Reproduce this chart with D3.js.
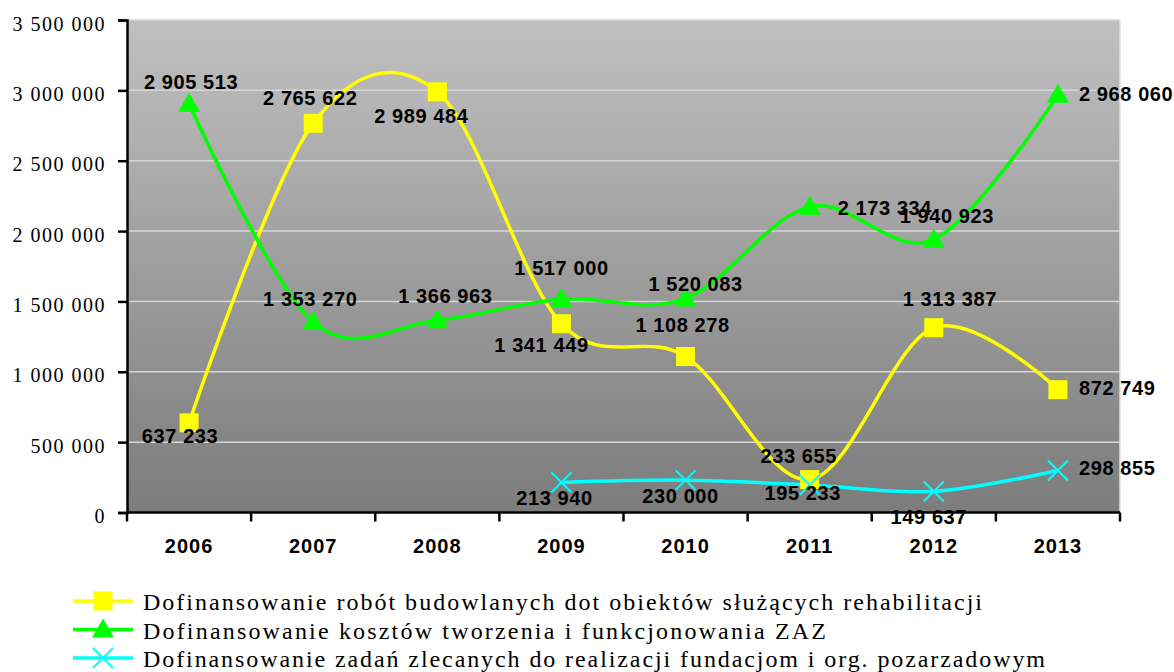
<!DOCTYPE html>
<meta charset="utf-8">
<style>
body { margin: 0; background: #fff; }
svg { display: block; }
.tick-x text { font-family: "Liberation Sans", Arial, sans-serif; font-size: 20px; font-weight: bold; letter-spacing: 1px; fill: #000; }
.lbl { font-family: "Liberation Sans", Arial, sans-serif; font-size: 20px; font-weight: bold; letter-spacing: 0.6px; fill: #000; }
.legend text { font-family: "Liberation Serif", "DejaVu Serif", serif; font-size: 24px; fill: #000; }
</style>
<body>
<div id="chart"></div>
<script src="https://cdn.jsdelivr.net/npm/d3@7"></script>
<script>
// data
var years = ["2006", "2007", "2008", "2009", "2010", "2011", "2012", "2013"];
var budowlane = [637233, 2765622, 2989484, 1341449, 1108278, 233655, 1313387, 872749];
var zaz = [2905513, 1353270, 1366963, 1517000, 1520083, 2173334, 1940923, 2968060];
var zlecone = [null, null, null, 213940, 230000, 195233, 149637, 298855];
var yTicks = [0, 500000, 1000000, 1500000, 2000000, 2500000, 3000000, 3500000];
var seriesNames = [
    "Dofinansowanie robót budowlanych dot obiektów służących rehabilitacji",
    "Dofinansowanie kosztów tworzenia i funkcjonowania ZAZ",
    "Dofinansowanie zadań zlecanych do realizacji fundacjom i org. pozarzadowym"
];

// label placement (dx, dy from the point, anchor)
var labelPlace = [
    [[-9, 20, "middle"], [-3, -18, "middle"], [-16, 31, "middle"], [-20, 28, "middle"],
     [-3, -25, "middle"], [-11, -17, "middle"], [16, -22, "middle"], [21, 5, "start"]],
    [[2, -15, "middle"], [-3, -16, "middle"], [8, -17, "middle"], [0, -24, "middle"],
     [10, -8, "middle"], [28, 8, "start"], [13, -16, "middle"], [21, 6, "start"]],
    [null, null, null, [-7, 23, "middle"], [-5, 23, "middle"], [-7, 15, "middle"],
     [-5, 33, "middle"], [21, 5, "start"]]
];

var W = 1174, H = 672;
var plotL = 127, plotR = 1120, plotT = 20, plotB = 512.5;

var svg = d3.select("#chart").append("svg").attr("width", W).attr("height", H);

var x = d3.scaleBand().domain(years).range([plotL, plotR]);
var y = d3.scaleLinear().domain([0, 3500000]).range([plotB, plotT]);
var cx = function(i) { return x(years[i]) + x.bandwidth() / 2; };

var fmt = function(v) {
    return d3.format(",")(v).replace(/,/g, " ");
};

// background gradient
var grad = svg.append("defs").append("linearGradient")
    .attr("id", "bg").attr("x1", 0).attr("y1", 0).attr("x2", 0).attr("y2", 1);
grad.append("stop").attr("offset", "0%").attr("stop-color", "#c0c0c0");
grad.append("stop").attr("offset", "100%").attr("stop-color", "#7c7c7c");

svg.append("rect")
    .attr("x", plotL).attr("y", plotT)
    .attr("width", plotR - plotL).attr("height", plotB - plotT)
    .attr("fill", "url(#bg)");

// gridlines
svg.append("g").selectAll("line")
    .data(yTicks.slice(1))
    .enter().append("line")
    .attr("x1", plotL).attr("x2", plotR)
    .attr("y1", function(d) { return y(d); })
    .attr("y2", function(d) { return y(d); })
    .attr("stroke", "#d6d6d6").attr("stroke-width", 1.5);

svg.append("line")
    .attr("x1", plotR).attr("x2", plotR).attr("y1", plotT).attr("y2", plotB)
    .attr("stroke", "#e0e0e0").attr("stroke-width", 1.5);

// y axis
var yAxis = d3.axisLeft(y).tickValues(yTicks).tickFormat(fmt).tickSize(9).tickPadding(12);
var gy = svg.append("g")
    .attr("transform", "translate(" + plotL + ",0)")
    .call(yAxis)
    .attr("font-family", "'Liberation Serif', 'DejaVu Serif', serif")
    .attr("font-size", 20);
gy.select(".domain").attr("stroke", "#000").attr("stroke-width", 2.5);
gy.selectAll(".tick line").attr("stroke", "#000").attr("stroke-width", 2.5);
gy.selectAll(".tick text").attr("dy", "0.5em")
    .attr("fill", "#000")
    .style("letter-spacing", "1.5px");

// x axis, ticks at category boundaries
var gx = svg.append("g").attr("class", "tick-x")
    .attr("transform", "translate(0," + plotB + ")");
gx.append("line").attr("x1", plotL).attr("x2", plotR)
    .attr("stroke", "#000").attr("stroke-width", 2.5);
gx.selectAll(".tb").data(years.concat(["end"]))
    .enter().append("line")
    .attr("x1", function(d, i) { return plotL + i * x.bandwidth(); })
    .attr("x2", function(d, i) { return plotL + i * x.bandwidth(); })
    .attr("y1", 0).attr("y2", 9)
    .attr("stroke", "#000").attr("stroke-width", 2.5);
gx.selectAll("text").data(years)
    .enter().append("text")
    .attr("x", function(d, i) { return cx(i); })
    .attr("y", 40)
    .attr("text-anchor", "middle")
    .text(function(d) { return d; });

// series
var series = [
    { values: budowlane, color: "#ffff00", marker: "square" },
    { values: zaz, color: "#00ff00", marker: "triangle" },
    { values: zlecone, color: "#00ffff", marker: "cross" }
];

var line = d3.line()
    .defined(function(d) { return d != null; })
    .x(function(d, i) { return cx(i); })
    .y(function(d) { return y(d); })
    .curve(d3.curveCatmullRom.alpha(0));

function drawMarker(g, type, color, px, py) {
    if (type === "square") {
        g.append("rect").attr("x", px - 9.5).attr("y", py - 9.5)
            .attr("width", 19).attr("height", 19).attr("fill", color);
    } else if (type === "triangle") {
        g.append("path")
            .attr("d", "M" + px + "," + (py - 11) + "L" + (px + 11) + "," + (py + 8) + "L" + (px - 11) + "," + (py + 8) + "Z")
            .attr("fill", color);
    } else {
        g.append("path")
            .attr("d", "M" + (px - 10) + "," + (py - 10) + "L" + (px + 10) + "," + (py + 10) +
                "M" + (px + 10) + "," + (py - 10) + "L" + (px - 10) + "," + (py + 10))
            .attr("stroke", color).attr("stroke-width", 2).attr("fill", "none");
    }
}

series.forEach(function(s) {
    svg.append("path")
        .datum(s.values)
        .attr("d", line)
        .attr("fill", "none")
        .attr("stroke", s.color)
        .attr("stroke-width", 3.5);
});

series.forEach(function(s) {
    var g = svg.append("g");
    s.values.forEach(function(v, i) {
        if (v == null) return;
        drawMarker(g, s.marker, s.color, cx(i), y(v));
    });
});

series.forEach(function(s, si) {
    var g = svg.append("g");
    s.values.forEach(function(v, i) {
        if (v == null) return;
        var p = labelPlace[si][i];
        g.append("text").attr("class", "lbl")
            .attr("x", cx(i) + p[0])
            .attr("y", y(v) + p[1])
            .attr("text-anchor", p[2])
            .text(fmt(v));
    });
});

// legend
var legendLen = [839, 683, 902];
var lg = svg.append("g").attr("class", "legend");
series.forEach(function(s, i) {
    var by = 610 + i * 28.5;
    var ly = by - 9;
    lg.append("line").attr("x1", 73).attr("x2", 133)
        .attr("y1", ly).attr("y2", ly)
        .attr("stroke", s.color).attr("stroke-width", 3.5);
    drawMarker(lg, s.marker, s.color, 103, ly);
    lg.append("text").attr("x", 143).attr("y", by)
        .attr("textLength", legendLen[i])
        .attr("lengthAdjust", "spacing")
        .text(seriesNames[i]);
});
</script>
</body>
